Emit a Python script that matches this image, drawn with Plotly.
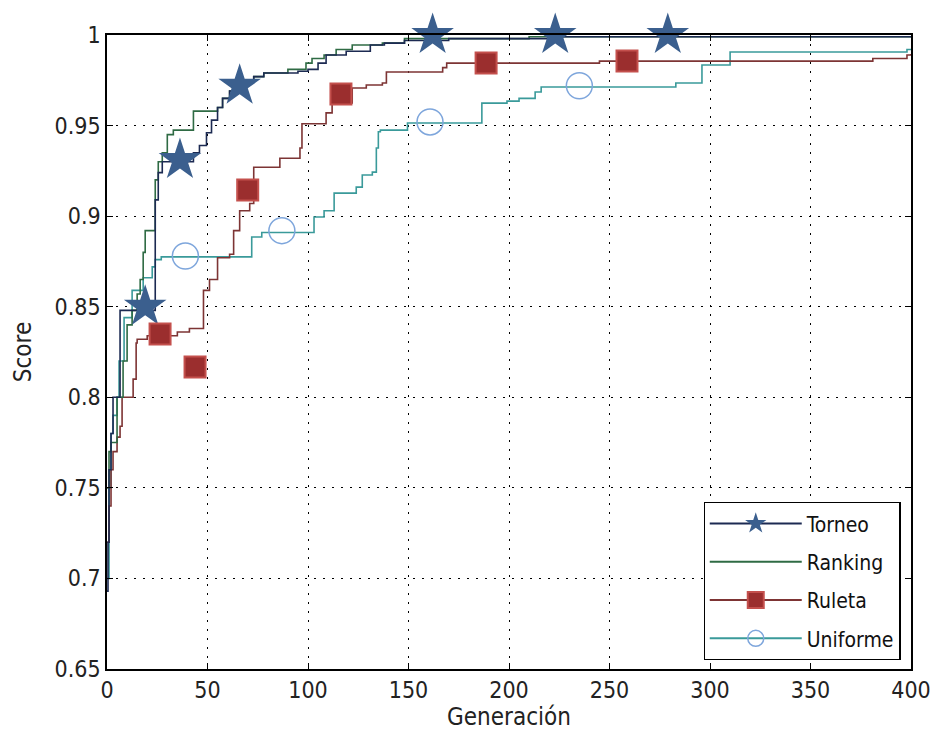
import plotly.graph_objects as go

# ---- data (step change points: generation, score) ----
torneo_x = [0, 0.5, 1, 2, 3, 6.5, 24, 25.5, 27.5, 43, 46, 49.5, 52, 55, 57.5, 61, 66, 73, 78, 95, 100, 105, 109, 119, 131, 138, 148, 170, 225, 400]
torneo_y = [0.693, 0.72, 0.76, 0.78, 0.8, 0.848, 0.909, 0.924, 0.93, 0.935, 0.939, 0.946, 0.953, 0.96, 0.965, 0.969, 0.974, 0.977, 0.979, 0.98, 0.981, 0.9845, 0.989, 0.991, 0.9945, 0.9955, 0.997, 0.998, 0.999, 0.999]

ranking_x = [0, 1, 2, 5, 8, 10, 12.5, 15, 16.5, 18, 19, 24, 25.5, 27.5, 30, 33, 43, 55, 57.5, 61, 66, 73, 78, 90, 99, 102, 108, 114, 122, 137, 148, 210, 400]
ranking_y = [0.75, 0.77, 0.775, 0.8, 0.82, 0.84, 0.848, 0.857, 0.865, 0.88, 0.892, 0.92, 0.93, 0.935, 0.945, 0.9475, 0.958, 0.96, 0.965, 0.969, 0.974, 0.977, 0.979, 0.981, 0.9845, 0.987, 0.989, 0.992, 0.9945, 0.9955, 0.998, 0.999, 0.999]

ruleta_x = [0, 1, 2, 3, 5, 6.5, 7.5, 13, 14.5, 15, 20, 35, 41, 48, 51, 55, 61, 63, 66, 71, 73, 86, 96, 97, 109, 112, 122, 129, 137, 139, 167, 169, 245, 381, 398, 400]
ruleta_y = [0.72, 0.74, 0.76, 0.77, 0.778, 0.784, 0.8, 0.81, 0.83, 0.832, 0.834, 0.836, 0.838, 0.859, 0.865, 0.877, 0.879, 0.892, 0.903, 0.907, 0.927, 0.932, 0.9376, 0.951, 0.957, 0.9625, 0.9707, 0.9724, 0.9735, 0.9796, 0.982, 0.9845, 0.9856, 0.987, 0.989, 0.9895]

uniforme_x = [0, 1, 2, 3, 5, 6, 8.5, 12.5, 18, 22.5, 24, 27, 72, 77, 103, 108, 113, 124, 127, 132, 134, 135, 136, 149.5, 186.5, 199, 205, 213, 216, 283, 296, 310, 398, 400]
uniforme_y = [0.70, 0.75, 0.78, 0.79, 0.8, 0.82, 0.844, 0.859, 0.866, 0.872, 0.876, 0.8775, 0.8885, 0.891, 0.8995, 0.903, 0.9127, 0.916, 0.9227, 0.9243, 0.9376, 0.9466, 0.9475, 0.9514, 0.9624, 0.9635, 0.965, 0.9685, 0.9713, 0.9735, 0.9834, 0.9906, 0.992, 0.992]

# ---- marker annotations (as drawn on the figure) ----
star_x = [19, 36.3, 66, 162, 223, 279]
star_y = [0.85, 0.931, 0.972, 1.0, 1.0, 1.0]
square_x = [26.4, 43.8, 70, 116.4, 188.6, 258.7]
square_y = [0.835, 0.8167, 0.9144, 0.9674, 0.9845, 0.9856]
circle_x = [39, 87, 160.7, 235]
circle_y = [0.878, 0.892, 0.952, 0.972]

x_ticks = [0, 50, 100, 150, 200, 250, 300, 350, 400]
y_ticks = [0.65, 0.7, 0.75, 0.8, 0.85, 0.9, 0.95, 1]
y_tick_text = ["0.65", "0.7", "0.75", "0.8", "0.85", "0.9", "0.95", "1"]

C_TOR = "#1c2a52"
C_RAN = "#2f6b44"
C_RUL = "#7d3434"
C_UNI = "#3a9a9a"
C_STAR = "#3b5f8e"
C_SQ = "#9b2e2e"
C_SQE = "#c4504d"
C_CIR = "#7ea6dc"

FONT = "DejaVu Sans Condensed, DejaVu Sans, sans-serif"

fig = go.Figure()

def line(x, y, color, width=1.6):
    fig.add_trace(go.Scatter(x=x, y=y, mode="lines", line=dict(color=color, width=width, shape="hv"),
                             showlegend=False, hoverinfo="skip"))

line(uniforme_x, uniforme_y, C_UNI)
line(ruleta_x, ruleta_y, C_RUL)
line(ranking_x, ranking_y, C_RAN)
line(torneo_x, torneo_y, C_TOR)

fig.add_trace(go.Scatter(x=star_x, y=star_y, mode="markers",
                         marker=dict(symbol="star", size=32, color=C_STAR, line=dict(width=0)),
                         showlegend=False, cliponaxis=False))
fig.add_trace(go.Scatter(x=square_x, y=square_y, mode="markers",
                         marker=dict(symbol="square", size=21, color=C_SQ, line=dict(width=2, color=C_SQE)),
                         showlegend=False, cliponaxis=False))
fig.add_trace(go.Scatter(x=circle_x, y=circle_y, mode="markers",
                         marker=dict(symbol="circle-open", size=26, color=C_CIR, line=dict(width=1.5, color=C_CIR)),
                         showlegend=False, cliponaxis=False))

# legend entries
fig.add_trace(go.Scatter(x=[None], y=[None], name="Torneo", mode="lines+markers", legendgroup="a",
                         line=dict(color=C_TOR, width=2), marker=dict(symbol="star", size=32, color=C_STAR)))
fig.add_trace(go.Scatter(x=[None], y=[None], name="Ranking", mode="lines", legendgroup="b",
                         line=dict(color=C_RAN, width=2)))
fig.add_trace(go.Scatter(x=[None], y=[None], name="Ruleta", mode="lines+markers", legendgroup="c",
                         line=dict(color=C_RUL, width=2),
                         marker=dict(symbol="square", size=21, color=C_SQ, line=dict(width=2, color=C_SQE))))
fig.add_trace(go.Scatter(x=[None], y=[None], name="Uniforme", mode="lines+markers", legendgroup="d",
                         line=dict(color=C_UNI, width=2),
                         marker=dict(symbol="circle-open", size=26, color=C_CIR, line=dict(width=1.5, color=C_CIR))))

tick_font = dict(family=FONT, size=23, color="#222")
axis_common = dict(showline=True, linecolor="black", linewidth=1.5, mirror="ticks",
                   ticks="inside", ticklen=6, tickcolor="black", tickwidth=1.2,
                   showgrid=True, gridcolor="black", gridwidth=1, griddash="2px,7px",
                   zeroline=False, tickfont=tick_font, automargin=False)

fig.update_xaxes(range=[0, 400], tickvals=x_ticks, ticktext=[str(v) for v in x_ticks],
                 title=dict(text="Generación", font=dict(family=FONT, size=24, color="#222"), standoff=6),
                 **axis_common)
fig.update_yaxes(range=[0.65, 1.0], tickvals=y_ticks, ticktext=y_tick_text,
                 title=dict(text="Score", font=dict(family=FONT, size=24, color="#222"), standoff=16),
                 **axis_common)

fig.update_layout(
    width=932, height=734,
    margin=dict(l=107, r=21, t=35, b=65),
    paper_bgcolor="white", plot_bgcolor="white",
    showlegend=True,
    legend=dict(x=0.987, y=0.014, xanchor="right", yanchor="bottom",
                bgcolor="white", bordercolor="black", borderwidth=1.2,
                font=dict(family=FONT, size=21, color="#111"),
                itemwidth=92, itemsizing="trace", traceorder="grouped", tracegroupgap=8),
)

fig.write_html("out.html")
